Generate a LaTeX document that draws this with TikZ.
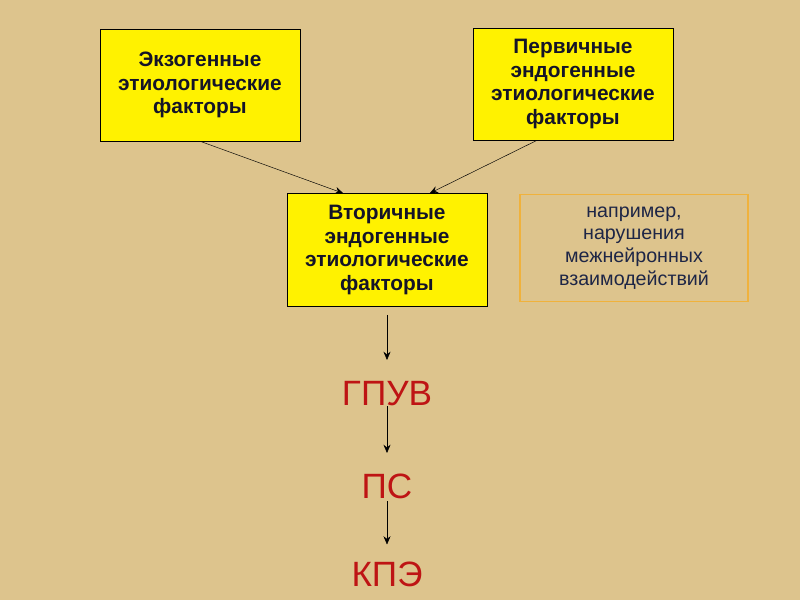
\documentclass[tikz,border=0pt]{standalone}
\usepackage{fontspec}
\setmainfont{Liberation Sans}
\usepackage{xcolor}
\usepackage{tikz}
\usetikzlibrary{positioning,arrows.meta}
\definecolor{papyrus}{RGB}{221,196,141}
\definecolor{boxtext}{RGB}{20,20,40}
\definecolor{notetext}{RGB}{30,38,70}
\definecolor{noteline}{RGB}{240,178,60}
\definecolor{stagered}{RGB}{190,20,20}
\tikzstyle{factor}=[rectangle, draw=black, fill=yellow, text=boxtext, align=center,
        font=\bfseries\fontsize{17.8}{20.3}\selectfont, minimum width=6cm, minimum height=3.36cm]
\tikzstyle{note}=[rectangle, draw=noteline, line width=1pt, text=notetext, align=center,
        font=\fontsize{16.8}{19.5}\selectfont, minimum width=6.84cm, minimum height=3.21cm]
\tikzstyle{stage}=[text=stagered, inner sep=0pt, text height=22pt, text depth=0pt,
        font=\fontsize{30}{34}\selectfont]
\tikzstyle{link}=[-{Stealth[length=7pt,width=6pt]}, black, thin]
\begin{document}
\begin{tikzpicture}[x=0.03cm, y=-0.03cm]
      \fill[papyrus] (0,0) rectangle (800,600);
      \node (Exo) [factor] at (200,85) {Экзогенные\\этиологические\\факторы};
      \node (Prim) [factor] at (573,84) {Первичные\\эндогенные\\этиологические\\факторы};
      \node (Sec) [factor, minimum height=3.39cm] at (387,250) {Вторичные\\эндогенные\\этиологические\\факторы};
      \node (Note) [note] at (634,248) {например,\\нарушения\\межнейронных\\взаимодействий};
      \node (Gpuv) [stage] at (387,393) {ГПУВ};
      \node (Ps) [stage] at (387,486) {ПС};
      \node (Kpe) [stage] at (387,574) {КПЭ};
      \draw[link] (Exo.south) -- ([xshift=-37.4pt]Sec.north);
      \draw[link] ([xshift=-30.6pt]Prim.south) -- ([xshift=36.5pt]Sec.north);
      \draw[link] ([yshift=-7pt]Sec.south) -- ([yshift=17pt]Gpuv.north);
      \draw[link] (Gpuv.south) -- ([yshift=17pt]Ps.north);
      \draw[link] ([yshift=-2pt]Ps.south) -- ([yshift=14pt]Kpe.north);
\end{tikzpicture}
\end{document}
